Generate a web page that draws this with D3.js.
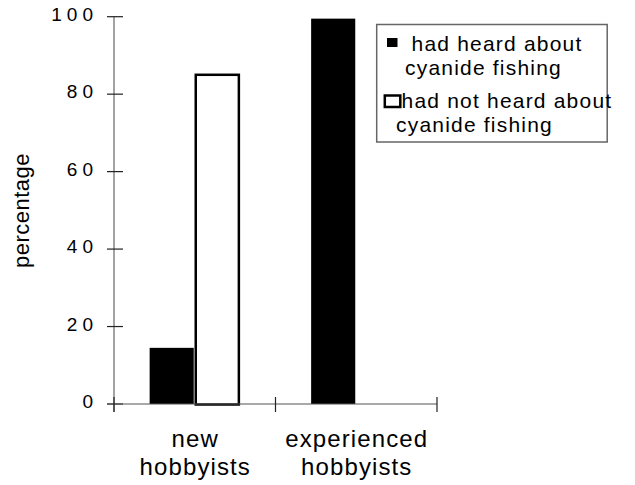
<!DOCTYPE html>
<html>
<head>
<meta charset="utf-8">
<script src="https://cdn.jsdelivr.net/npm/d3@7"></script>
<style>
  html, body { margin: 0; padding: 0; background: #fff; }
  svg { display: block; }
  text { font-family: "Liberation Sans", Arial, Helvetica, sans-serif; fill: #000; }
</style>
</head>
<body>
<svg id="chart" width="635" height="485"></svg>
<script>
// ---- data ----
const categories = ["new hobbyists", "experienced hobbyists"];
const categoryLines = [["new", "hobbyists"], ["experienced", "hobbyists"]];
const seriesKeys = ["heard", "notHeard"];
const seriesLabels = [["had heard about", "cyanide fishing"], ["had not heard about", "cyanide fishing"]];
const heardValues = [14.5, 99.5];
const notHeardValues = [85, 0];
const yTickValues = [0, 20, 40, 60, 80, 100];
const yLabel = "percentage";

// ---- layout ----
const svg = d3.select("#chart");
const x0 = 114, x1 = 437, yBottom = 404, yTop = 16.7;

const x = d3.scaleBand().domain(categories).range([x0, x1]).paddingInner(0).paddingOuter(0);
const xs = d3.scaleBand().domain(seriesKeys).range([0, x.bandwidth()]).paddingInner(0).paddingOuter(0.79);
const y = d3.scaleLinear().domain([0, 100]).range([yBottom, yTop]);

const rows = categories.map((c, i) => ({ cat: c, heard: heardValues[i], notHeard: notHeardValues[i] }));

// bars
const g = svg.append("g");
rows.forEach(r => {
  g.append("rect")
    .attr("x", x(r.cat) + xs("heard"))
    .attr("y", y(r.heard))
    .attr("width", xs.bandwidth() - 1)
    .attr("height", y(0) - y(r.heard))
    .attr("fill", "#000");
  if (r.notHeard > 0) {
    g.append("rect")
      .attr("x", x(r.cat) + xs("notHeard") + 1)
      .attr("y", y(r.notHeard))
      .attr("width", xs.bandwidth() - 2)
      .attr("height", y(0) - y(r.notHeard) + 0.5)
      .attr("fill", "#fff")
      .attr("stroke", "#000")
      .attr("stroke-width", 2.5);
  }
});

// y axis
const ax = svg.append("g");
ax.append("line").attr("x1", x0).attr("x2", x0).attr("y1", y(100)).attr("y2", yBottom + 8)
  .attr("stroke", "#666").attr("stroke-width", 1.2);
yTickValues.forEach(v => {
  ax.append("line").attr("x1", x0 - 7).attr("x2", x0 + 9).attr("y1", y(v)).attr("y2", y(v))
    .attr("stroke", "#222").attr("stroke-width", 1.2);
  ax.append("text").attr("x", 98).attr("y", y(v) + 4)
    .attr("text-anchor", "end")
    .style("font-size", "19px").style("letter-spacing", "5px")
    .text(v);
});

// x axis
ax.append("line").attr("x1", x0 - 7).attr("x2", x1).attr("y1", yBottom).attr("y2", yBottom)
  .attr("stroke", "#555").attr("stroke-width", 1.2);
const xTickPos = categories.map(c => x(c)).concat([x.range()[1]]);
xTickPos.forEach(p => {
  ax.append("line").attr("x1", p).attr("x2", p).attr("y1", yBottom - 7).attr("y2", yBottom + 8)
    .attr("stroke", "#222").attr("stroke-width", 1.2);
});
categories.forEach((c, i) => {
  const t = ax.append("text")
    .attr("text-anchor", "middle")
    .style("font-size", "24px").style("letter-spacing", "1.1px");
  categoryLines[i].forEach((ln, j) => {
    t.append("tspan").attr("x", x(c) + x.bandwidth() / 2 + 0.5).attr("y", 447 + j * 28.3).text(ln);
  });
});

// y label
svg.append("text")
  .attr("transform", `translate(28.5,${210.5}) rotate(-90)`)
  .attr("text-anchor", "middle")
  .style("font-size", "22px").style("letter-spacing", "0.5px")
  .text(yLabel);

// legend
const lg = svg.append("g");
lg.append("rect").attr("x", 376.7).attr("y", 24.5).attr("width", 230.5).attr("height", 117.5)
  .attr("fill", "#fff").attr("stroke", "#666").attr("stroke-width", 1.5);
lg.append("rect").attr("x", 387).attr("y", 38).attr("width", 10.5).attr("height", 9).attr("fill", "#000");
lg.append("rect").attr("x", 384.8).attr("y", 95.5).attr("width", 15.5).attr("height", 11.5)
  .attr("fill", "#fff").attr("stroke", "#000").attr("stroke-width", 2.5);
const legendLinePos = [[[411.5, 51], [405, 75]], [[401.5, 108], [396, 132]]];
seriesLabels.forEach((lines, i) => {
  lines.forEach((ln, j) => {
    lg.append("text").attr("x", legendLinePos[i][j][0]).attr("y", legendLinePos[i][j][1])
      .style("font-size", "21px").style("letter-spacing", "1.2px")
      .text(ln);
  });
});
</script>
</body>
</html>
